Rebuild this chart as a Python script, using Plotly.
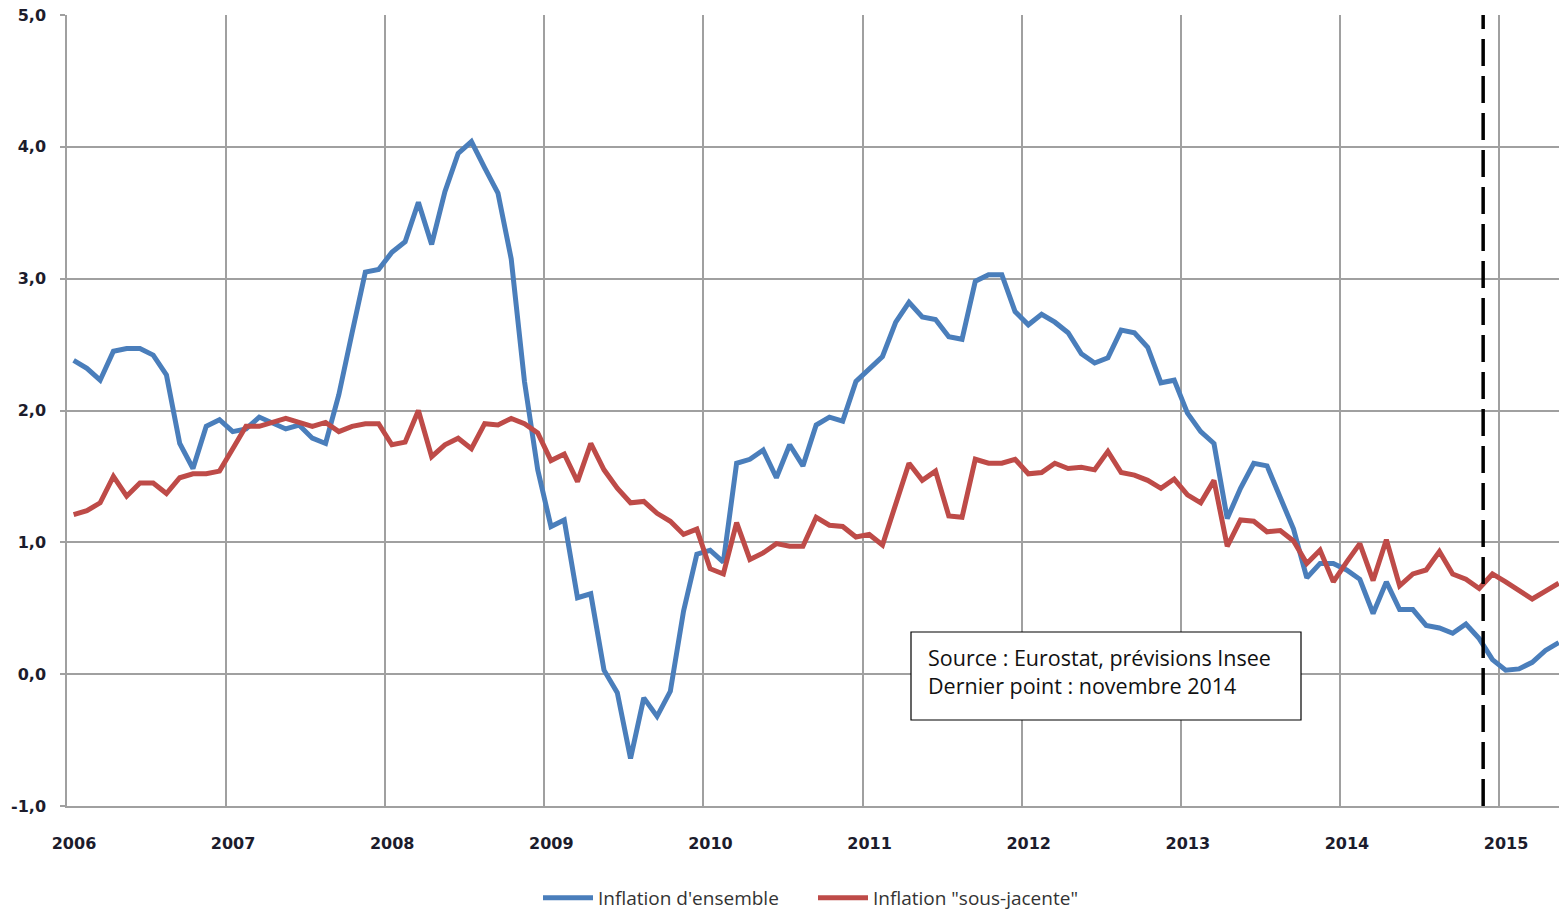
import plotly.graph_objects as go

# Monthly series, January 2006 -> May 2015 (113 months)
inflation_ensemble = [
    2.38, 2.32, 2.23, 2.45, 2.47, 2.47, 2.42, 2.27, 1.75, 1.56, 1.88, 1.93,   # 2006
    1.84, 1.86, 1.95, 1.90, 1.86, 1.89, 1.79, 1.75, 2.12, 2.59, 3.05, 3.07,   # 2007
    3.20, 3.28, 3.58, 3.26, 3.66, 3.95, 4.04, 3.84, 3.65, 3.15, 2.22, 1.55,   # 2008
    1.12, 1.17, 0.58, 0.61, 0.03, -0.14, -0.64, -0.18, -0.32, -0.13, 0.48, 0.91,  # 2009
    0.94, 0.85, 1.60, 1.63, 1.70, 1.49, 1.74, 1.58, 1.89, 1.95, 1.92, 2.22,   # 2010
    2.31, 2.41, 2.67, 2.82, 2.71, 2.69, 2.56, 2.54, 2.98, 3.03, 3.03, 2.75,   # 2011
    2.65, 2.73, 2.67, 2.59, 2.43, 2.36, 2.40, 2.61, 2.59, 2.48, 2.21, 2.23,   # 2012
    1.98, 1.84, 1.75, 1.18, 1.41, 1.60, 1.58, 1.34, 1.10, 0.73, 0.84, 0.84,   # 2013
    0.79, 0.72, 0.46, 0.70, 0.49, 0.49, 0.37, 0.35, 0.31, 0.38, 0.27, 0.11,   # 2014
    0.03, 0.04, 0.09, 0.18, 0.24,                                             # 2015
]
inflation_sous_jacente = [
    1.21, 1.24, 1.30, 1.50, 1.35, 1.45, 1.45, 1.37, 1.49, 1.52, 1.52, 1.54,   # 2006
    1.71, 1.88, 1.88, 1.91, 1.94, 1.91, 1.88, 1.91, 1.84, 1.88, 1.90, 1.90,   # 2007
    1.74, 1.76, 2.00, 1.65, 1.74, 1.79, 1.71, 1.90, 1.89, 1.94, 1.90, 1.83,   # 2008
    1.62, 1.67, 1.46, 1.75, 1.55, 1.41, 1.30, 1.31, 1.22, 1.16, 1.06, 1.10,   # 2009
    0.80, 0.76, 1.15, 0.87, 0.92, 0.99, 0.97, 0.97, 1.19, 1.13, 1.12, 1.04,   # 2010
    1.06, 0.98, 1.29, 1.60, 1.47, 1.54, 1.20, 1.19, 1.63, 1.60, 1.60, 1.63,   # 2011
    1.52, 1.53, 1.60, 1.56, 1.57, 1.55, 1.69, 1.53, 1.51, 1.47, 1.41, 1.48,   # 2012
    1.36, 1.30, 1.47, 0.97, 1.17, 1.16, 1.08, 1.09, 1.01, 0.84, 0.94, 0.70,   # 2013
    0.85, 0.99, 0.71, 1.02, 0.67, 0.76, 0.79, 0.93, 0.76, 0.72, 0.65, 0.76,   # 2014
    0.70, 0.64, 0.57, 0.63, 0.69,                                             # 2015
]
years = ["2006", "2007", "2008", "2009", "2010", "2011", "2012", "2013", "2014", "2015"]
y_ticks = [-1, 0, 1, 2, 3, 4, 5]
y_tick_labels = ["-1,0", "0,0", "1,0", "2,0", "3,0", "4,0", "5,0"]
series_names = ["Inflation d'ensemble", "Inflation \"sous-jacente\""]
note_lines = ["Source : Eurostat, prévisions Insee", "Dernier point : novembre 2014"]
last_point_month = 106  # novembre 2014 (index from janvier 2006)

# category axis: month i is centred at i + 0.5, years start at multiples of 12
months = [i + 0.5 for i in range(len(inflation_ensemble))]
year_starts = [12 * k for k in range(len(years))]

BLUE = "#4A7EBB"
RED = "#BE4B48"
GRID = "#A0A0A0"
TICK_FONT = dict(family="DejaVu Sans", size=16, color="#1c1c2c", weight="bold")

fig = go.Figure()
fig.add_trace(go.Scatter(x=months, y=inflation_ensemble, mode="lines",
                         name=series_names[0], line=dict(color=BLUE, width=5)))
fig.add_trace(go.Scatter(x=months, y=inflation_sous_jacente, mode="lines",
                         name=series_names[1], line=dict(color=RED, width=5)))

# vertical dashed line marking last observed point
fig.add_shape(type="line", xref="x", yref="paper",
              x0=last_point_month + 0.8, x1=last_point_month + 0.8, y0=0, y1=1,
              line=dict(color="black", width=3.5, dash="27px,10px"))

# source box
fig.add_shape(type="rect", xref="paper", yref="paper",
              x0=(911 - 67) / 1492, x1=(1301 - 67) / 1492,
              y0=(806 - 720) / 791, y1=(806 - 632) / 791,
              line=dict(color="black", width=1.2), fillcolor="white", layer="above")
fig.add_annotation(xref="paper", yref="paper",
                   x=(926 - 67) / 1492, y=(806 - 671) / 791,
                   xanchor="left", yanchor="middle", align="left", showarrow=False,
                   text="<br>".join(note_lines),
                   font=dict(family="Open Sans", size=21.5, color="#111"))

fig.update_layout(
    width=1559, height=911,
    margin=dict(l=67, r=0, t=15, b=105),
    paper_bgcolor="white", plot_bgcolor="white",
    showlegend=True,
    legend=dict(orientation="h", xref="container", x=813 / 1559, xanchor="center",
                yref="container", y=(911 - 898) / 911, yanchor="middle",
                bgcolor="rgba(0,0,0,0)", itemwidth=50,
                font=dict(family="Open Sans", size=19, color="#333"),
                entrywidth=210, entrywidthmode="pixels", tracegroupgap=0),
)
fig.update_xaxes(
    range=[0, 112.52], tickmode="array", tickvals=year_starts, ticktext=years,
    ticklabelshift=7, ticklabelstandoff=22, ticks="", automargin=False,
    showgrid=True, gridcolor=GRID, gridwidth=1.5,
    showline=True, linecolor=GRID, linewidth=1.5, zeroline=False,
    tickfont=TICK_FONT,
)
fig.update_yaxes(
    range=[-1, 5], tickmode="array", tickvals=y_ticks, ticktext=y_tick_labels,
    ticks="outside", ticklen=5, tickcolor=GRID, tickwidth=1.5, ticklabelstandoff=11,
    automargin=False,
    showgrid=True, gridcolor=GRID, gridwidth=1.5,
    showline=True, linecolor=GRID, linewidth=1.5, zeroline=False,
    tickfont=TICK_FONT,
)

fig.write_html(
    "out.html",
    config={"displayModeBar": False},
    post_script=(
        "document.documentElement.style.margin='0';"
        "document.body.style.margin='0';document.body.style.overflow='hidden';"
        "var d=document.getElementById('{plot_id}');"
        "d.style.position='fixed';d.style.left='0px';d.style.top='0px';"
    ),
)
